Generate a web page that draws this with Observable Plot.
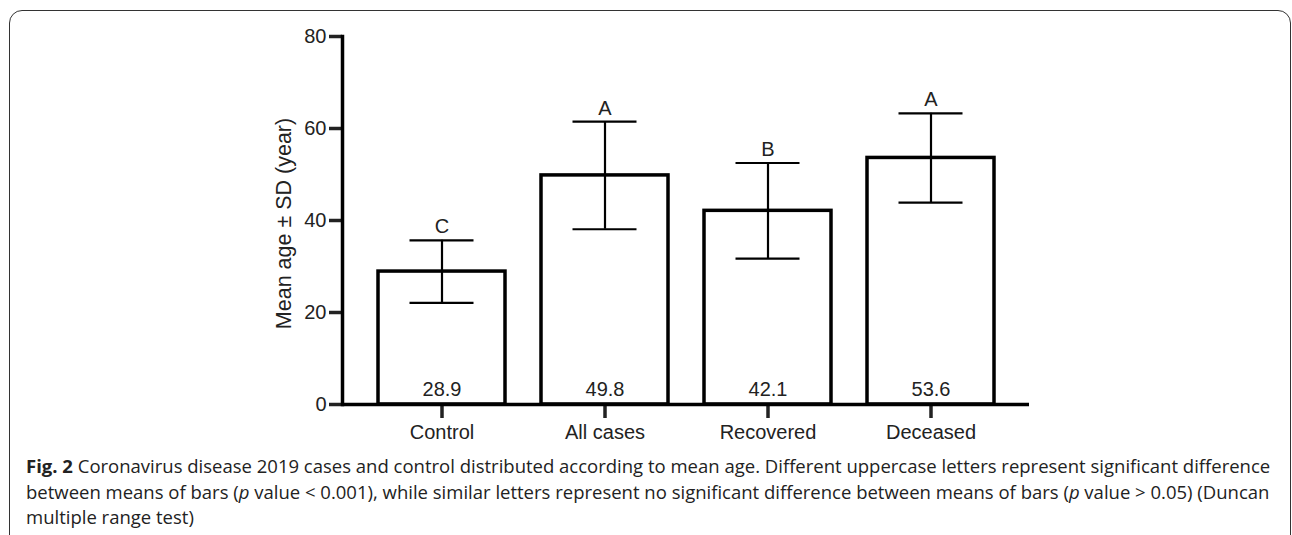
<!DOCTYPE html>
<html>
<head>
<meta charset="utf-8">
<script src="https://cdn.jsdelivr.net/npm/d3@7"></script>
<script src="https://cdn.jsdelivr.net/npm/@observablehq/plot@0.6"></script>
<style>
  html, body { margin: 0; padding: 0; background: #fff; }
  body { width: 1292px; height: 535px; position: relative; overflow: hidden; }
  #box { position: absolute; left: 9px; top: 10px; width: 1282px; height: 600px;
         border: 1.3px solid #333; border-radius: 13px; box-sizing: border-box; }
  #chart { position: absolute; left: 0; top: 0; }
  #caption { position: absolute; left: 26px; top: 453px; width: 1262px;
             font-family: "Open Sans", sans-serif; font-size: 18.5px; line-height: 25.5px;
             color: #222; white-space: nowrap; }
  #caption b { font-weight: 700; }
</style>
</head>
<body>
<div id="box"></div>
<div id="chart"></div>
<div id="caption">
  <b>Fig. 2</b> Coronavirus disease 2019 cases and control distributed according to mean age. Different uppercase letters represent significant difference<br>
  between means of bars (<i>p</i> value &lt; 0.001), while similar letters represent no significant difference between means of bars (<i>p</i> value &gt; 0.05) (Duncan<br>
  multiple range test)
</div>
<script>
const groups = ["Control", "All cases", "Recovered", "Deceased"];
const means = [28.9, 49.8, 42.1, 53.6];
const sds = [6.8, 11.7, 10.4, 9.7];
const letters = ["C", "A", "B", "A"];
const yTicks = [0, 20, 40, 60, 80];
const yLabel = "Mean age ± SD (year)";

const data = groups.map((g, i) => ({group: g, mean: means[i], sd: sds[i], letter: letters[i]}));

const font = "'Liberation Sans', Arial, sans-serif";

const chart = Plot.plot({
  width: 1292,
  height: 455,
  marginLeft: 342,
  marginRight: 263,
  marginTop: 36,
  marginBottom: 51,
  style: { fontFamily: font, fontSize: "20px", color: "#222", background: "transparent" },
  x: { domain: groups, paddingInner: 0.223, paddingOuter: 0.21, label: null },
  y: { domain: [0, 80], label: null },
  marks: [
    Plot.barY(data, { x: "group", y: "mean", fill: "white", stroke: "black", strokeWidth: 3.5 }),
    Plot.ruleX(data, { x: "group", y1: d => d.mean - d.sd, y2: d => d.mean + d.sd, stroke: "black", strokeWidth: 2.2 }),
    Plot.tickY(data, { x: "group", y: d => d.mean + d.sd, inset: 31.5, stroke: "black", strokeWidth: 2.2 }),
    Plot.tickY(data, { x: "group", y: d => d.mean - d.sd, inset: 31.5, stroke: "black", strokeWidth: 2.2 }),
    Plot.text(data, { x: "group", y: d => d.mean + d.sd, text: "letter", dy: -7, lineAnchor: "bottom", fontSize: 20, fill: "#222" }),
    Plot.text(data, { x: "group", y: 0, text: d => d.mean.toFixed(1), dy: -9, lineAnchor: "bottom", fontSize: 20, fill: "#222" }),
    Plot.axisY({ ticks: yTicks, tickSize: 13, tickPadding: 3, strokeWidth: 3.5, fontSize: 20, tickFormat: d => d, label: null }),
    Plot.text([yLabel], { frameAnchor: "left", rotate: -90, dx: -58, dy: 3, textAnchor: "middle", lineAnchor: "middle", fontSize: 21.5, fill: "#222" }),
    Plot.axisX({ tickSize: 14, tickPadding: 6, strokeWidth: 3.5, fontSize: 20, label: null }),
    Plot.frame({ anchor: "left", stroke: "black", strokeWidth: 3.5 }),
    Plot.ruleY([0], { stroke: "black", strokeWidth: 3.5 })
  ]
});
document.getElementById("chart").appendChild(chart);
</script>
</body>
</html>
